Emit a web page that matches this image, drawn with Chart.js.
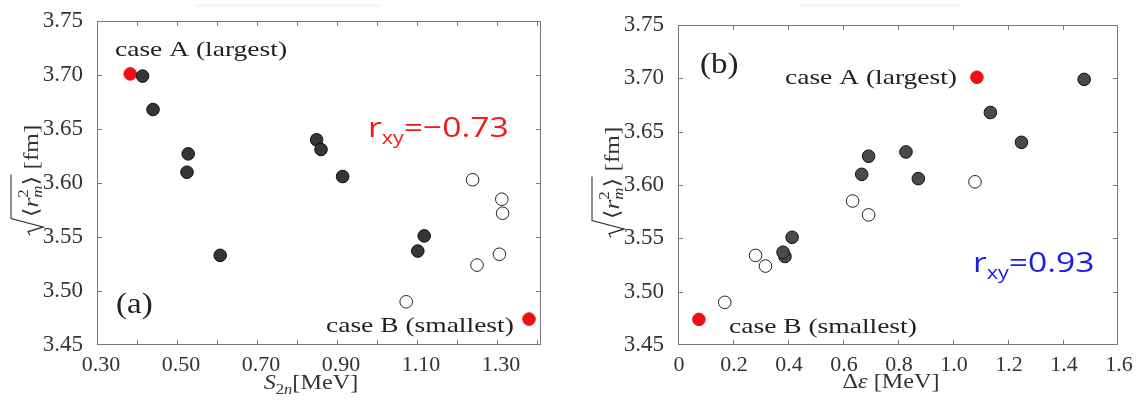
<!DOCTYPE html>
<html>
<head>
<meta charset="utf-8">
<script src="https://cdn.jsdelivr.net/npm/chart.js@4.4.1/dist/chart.umd.min.js"></script>
<style>
  html, body { margin: 0; padding: 0; background: #fff; }
  body { width: 1141px; height: 409px; position: relative; overflow: hidden; }
  canvas { position: absolute; top: 0; }
  #chartA { left: 0; }
  #chartB { left: 570px; }
</style>
</head>
<body>
<canvas id="chartA" width="570" height="409"></canvas>
<canvas id="chartB" width="571" height="409"></canvas>
<script>
// matter radius sqrt<r_m^2> [fm] vs S2n and delta-eps
const darkR   = [3.699, 3.668, 3.627, 3.610, 3.533, 3.640, 3.631, 3.606, 3.537, 3.551];
const darkS2n = [0.414, 0.440, 0.528, 0.525, 0.608, 0.849, 0.860, 0.914, 1.102, 1.118];
const darkDe  = [1.477, 1.136, 0.693, 0.668, 0.389, 1.249, 0.829, 0.874, 0.382, 0.415];

const openR   = [3.490, 3.603, 3.524, 3.534, 3.585, 3.572];
const openS2n = [1.073, 1.239, 1.250, 1.306, 1.312, 1.314];
const openDe  = [0.170, 1.080, 0.318, 0.282, 0.635, 0.693];

const redR    = [3.701, 3.474];
const redS2n  = [0.383, 1.380];
const redDe   = [1.087, 0.076];

const yTicks    = [3.45, 3.50, 3.55, 3.60, 3.65, 3.70, 3.75];
const s2nTicks  = [0.30, 0.40, 0.50, 0.60, 0.70, 0.80, 0.90, 1.00, 1.10, 1.20, 1.30, 1.40];
const s2nLabels = ['0.30', '0.50', '0.70', '0.90', '1.10', '1.30'];
const deTicks   = [0, 0.2, 0.4, 0.6, 0.8, 1.0, 1.2, 1.4, 1.6];
const deLabels  = ['0', '0.2', '0.4', '0.6', '0.8', '1.0', '1.2', '1.4', '1.6'];

const SERIF = '"Liberation Serif", "DejaVu Serif", serif';
const SANS = '"Open Sans", "Noto Sans", sans-serif';

function pts(xs, ys) {
  return xs.map((x, i) => ({ x: x, y: ys[i] }));
}

function fontOf(p) {
  return (p.it ? 'italic ' : '') + p.size + 'px ' + (p.sans ? SANS : SERIF);
}

function richWidth(ctx, parts) {
  let w = 0;
  for (const p of parts) {
    ctx.font = fontOf(p);
    if (!p.stay) w += ctx.measureText(p.t).width;
  }
  return w;
}

function drawRich(ctx, parts, x, y, sx, color, align) {
  ctx.save();
  ctx.translate(x, y);
  ctx.scale(sx, 1);
  ctx.fillStyle = color;
  ctx.textAlign = 'left';
  ctx.textBaseline = 'alphabetic';
  let cx = align === 'center' ? -richWidth(ctx, parts) / 2 : 0;
  for (const p of parts) {
    ctx.font = fontOf(p);
    ctx.fillText(p.t, cx, p.dy || 0);
    if (!p.stay) cx += ctx.measureText(p.t).width;
  }
  ctx.restore();
}

function rxy(rest) {
  return [
    { t: 'r', size: 28, sans: true },
    { t: 'xy', size: 18, sans: true, dy: 7 },
    { t: rest, size: 28, sans: true }
  ];
}

// sqrt<r_m^2> [fm], rotated
function drawYTitle(ctx, bx, cy) {
  const inner = [
    { t: '\u27E8', size: 21 },
    { t: 'r', size: 21, it: true },
    { t: '2', size: 14, dy: -10, stay: true },
    { t: 'm', size: 14, it: true, dy: 4 },
    { t: '\u27E9', size: 21 }
  ];
  const rest = [{ t: ' [fm]', size: 21 }];
  ctx.save();
  ctx.translate(bx, cy);
  ctx.rotate(-Math.PI / 2);
  ctx.scale(1.2, 1);
  const wIn = richWidth(ctx, inner);
  const wR = richWidth(ctx, rest);
  const rad = 15;
  const x0 = -(rad + wIn + wR) / 2;
  ctx.strokeStyle = '#333';
  ctx.lineWidth = 1.1;
  ctx.beginPath();
  ctx.moveTo(x0, -8);
  ctx.lineTo(x0 + 3, -10);
  ctx.lineTo(x0 + 7, 5);
  ctx.lineTo(x0 + 14, -27);
  ctx.lineTo(x0 + rad + wIn + 1, -27);
  ctx.stroke();
  drawRich(ctx, inner, x0 + rad, 0, 1, '#333', 'left');
  drawRich(ctx, rest, x0 + rad + wIn, 0, 1, '#333', 'left');
  ctx.restore();
}

const paperPlugin = {
  id: 'paper',
  beforeDatasetsDraw(chart, args, opts) {
    const ctx = chart.ctx;
    const a = chart.chartArea;
    const xs = chart.scales.x;
    const ys = chart.scales.y;
    ctx.save();
    // faint smudge above the panel, as in the scan
    if (opts.smudge) {
      ctx.fillStyle = 'rgba(0,0,0,0.035)';
      ctx.fillRect(opts.smudge[0], 4, opts.smudge[1] - opts.smudge[0], 3);
    }
    ctx.strokeStyle = '#777';
    ctx.lineWidth = 1;
    ctx.strokeRect(a.left + 0.5, a.top + 0.5, a.right - a.left - 1, a.bottom - a.top - 1);
    ctx.beginPath();
    xs.ticks.forEach(t => {
      const px = Math.round(xs.getPixelForValue(t.value)) + 0.5;
      if (px <= a.left + 2 || px >= a.right - 2) return;
      ctx.moveTo(px, a.bottom); ctx.lineTo(px, a.bottom - 5);
      ctx.moveTo(px, a.top); ctx.lineTo(px, a.top + 5);
    });
    ys.ticks.forEach(t => {
      const py = Math.round(ys.getPixelForValue(t.value)) + 0.5;
      if (py <= a.top + 2 || py >= a.bottom - 2) return;
      ctx.moveTo(a.left, py); ctx.lineTo(a.left + 5, py);
      ctx.moveTo(a.right, py); ctx.lineTo(a.right - 5, py);
    });
    ctx.stroke();
    ctx.restore();
  },
  afterDatasetsDraw(chart, args, opts) {
    const ctx = chart.ctx;
    const xs = chart.scales.x;
    const ys = chart.scales.y;
    (opts.notes || []).forEach(n => {
      drawRich(ctx, n.parts, xs.getPixelForValue(n.x), ys.getPixelForValue(n.y), n.sx, n.color, 'left');
    });
    if (opts.xTitle) {
      drawRich(ctx, opts.xTitle.parts, opts.xTitle.cx, opts.xTitle.by, 1.1, '#333', 'center');
    }
    if (opts.yTitle) {
      drawYTitle(ctx, opts.yTitle.bx, opts.yTitle.cy);
    }
  }
};

function makeChart(id, xData, cfg) {
  const marker = {
    showLine: false,
    pointRadius: 6.3,
    pointHoverRadius: 6.3,
    pointBorderWidth: 1
  };
  return new Chart(document.getElementById(id), {
    type: 'scatter',
    data: {
      datasets: [
        Object.assign({ data: pts(xData.dark, darkR), pointBackgroundColor: cfg.darkFill, pointBorderColor: '#111' }, marker),
        Object.assign({ data: pts(xData.open, openR), pointBackgroundColor: '#fff', pointBorderColor: '#222' }, marker),
        Object.assign({ data: pts(xData.red, redR), pointBackgroundColor: '#ee1111', pointBorderColor: '#ee1111' }, marker)
      ]
    },
    options: {
      responsive: false,
      animation: false,
      events: [],
      layout: { padding: cfg.padding },
      plugins: {
        legend: { display: false },
        tooltip: { enabled: false },
        paper: cfg.paper
      },
      scales: {
        x: {
          type: 'linear',
          min: cfg.xMin,
          max: cfg.xMax,
          grid: { display: false },
          border: { display: false },
          afterBuildTicks: axis => { axis.ticks = cfg.xTicks.map(v => ({ value: v })); },
          afterFit: axis => { axis.height = cfg.xHeight; },
          ticks: {
            autoSkip: false,
            maxRotation: 0,
            padding: -1,
            labelOffset: cfg.labelOffset,
            color: '#333',
            font: { family: SERIF, size: 22 },
            callback: cfg.xLabel
          }
        },
        y: {
          type: 'linear',
          min: 3.45,
          max: 3.75,
          grid: { display: false },
          border: { display: false },
          afterBuildTicks: axis => { axis.ticks = yTicks.map(v => ({ value: v })); },
          afterFit: axis => { axis.width = cfg.yWidth; },
          ticks: {
            autoSkip: false,
            padding: 6,
            color: '#333',
            font: { family: SERIF, size: 23 },
            callback: v => v.toFixed(2)
          }
        }
      }
    },
    plugins: [paperPlugin]
  });
}

const caseText = t => [{ t: t, size: 22 }];

makeChart('chartA', { dark: darkS2n, open: openS2n, red: redS2n }, {
  darkFill: '#363636',
  padding: { top: 21, right: 29, left: 0, bottom: 0 },
  xMin: 0.30, xMax: 1.41, xTicks: s2nTicks,
  xHeight: 64, yWidth: 97, labelOffset: 4,
  xLabel: v => { const s = v.toFixed(2); return s2nLabels.includes(s) ? s : ''; },
  paper: {
    smudge: [195, 380],
    notes: [
      { x: 0.345, y: 3.718, parts: caseText('case A (largest)'), sx: 1.25, color: '#222' },
      { x: 0.9775, y: 3.643, parts: rxy('=\u22120.73'), sx: 1.2, color: '#ee1c1c' },
      { x: 0.3475, y: 3.4796, parts: [{ t: '(a)', size: 30 }], sx: 1.1, color: '#222' },
      { x: 0.8725, y: 3.462, parts: caseText('case B (smallest)'), sx: 1.25, color: '#222' }
    ],
    xTitle: {
      cx: 311, by: 389,
      parts: [
        { t: 'S', size: 22, it: true },
        { t: '2', size: 15, dy: 5 },
        { t: 'n', size: 15, it: true, dy: 5 },
        { t: '[MeV]', size: 22 }
      ]
    },
    yTitle: { bx: 38, cy: 180 }
  }
});

makeChart('chartB', { dark: darkDe, open: openDe, red: redDe }, {
  darkFill: '#4a4a4a',
  padding: { top: 25, right: 23, left: 0, bottom: 0 },
  xMin: 0, xMax: 1.6, xTicks: deTicks,
  xHeight: 64, yWidth: 108, labelOffset: 1,
  xLabel: (v, i) => deLabels[i],
  paper: {
    smudge: [230, 390],
    notes: [
      { x: 0.08, y: 3.705, parts: [{ t: '(b)', size: 30 }], sx: 1.1, color: '#222' },
      { x: 0.389, y: 3.6947, parts: caseText('case A (largest)'), sx: 1.25, color: '#222' },
      { x: 0.1855, y: 3.4613, parts: caseText('case B (smallest)'), sx: 1.25, color: '#222' },
      { x: 1.0727, y: 3.5185, parts: rxy('=0.93'), sx: 1.2, color: '#1c1ce8' }
    ],
    xTitle: {
      cx: 321, by: 388,
      parts: [
        { t: '\u0394', size: 22 },
        { t: '\u03B5', size: 22, it: true },
        { t: ' [MeV]', size: 22 }
      ]
    },
    yTitle: { bx: 49, cy: 182 }
  }
});
</script>
</body>
</html>
